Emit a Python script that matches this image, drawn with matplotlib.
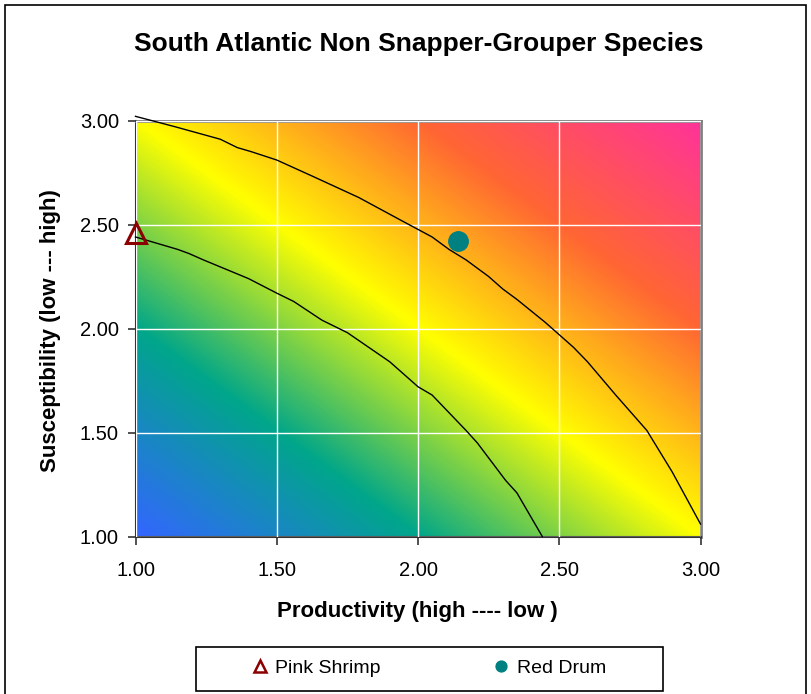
import numpy as np
import matplotlib
matplotlib.use("Agg")
import matplotlib.pyplot as plt
from matplotlib.colors import LinearSegmentedColormap
from matplotlib.lines import Line2D
from matplotlib.patches import Rectangle

plt.rcParams['font.family'] = ['Liberation Sans', 'DejaVu Sans']

# ---- data ----
title = "South Atlantic Non Snapper-Grouper Species"
xlabel = "Productivity (high ---- low )"
ylabel = "Susceptibility (low --- high)"
ticks = [1.0, 1.5, 2.0, 2.5, 3.0]
tick_labels = ["1.00", "1.50", "2.00", "2.50", "3.00"]

species = ["Pink Shrimp", "Red Drum"]
productivity = [1.00, 2.14]
susceptibility = [2.46, 2.42]

lower_x = [1.00, 1.10, 1.15, 1.19, 1.24, 1.40, 1.50, 1.56, 1.66, 1.75, 1.90, 2.00,
           2.05, 2.17, 2.21, 2.31, 2.35, 2.44]
lower_y = [2.44, 2.40, 2.38, 2.36, 2.33, 2.24, 2.17, 2.13, 2.04, 1.98, 1.84, 1.72,
           1.68, 1.51, 1.45, 1.27, 1.21, 1.00]
upper_x = [1.00, 1.14, 1.30, 1.36, 1.41, 1.50, 1.63, 1.71, 1.79, 1.94, 2.05, 2.11,
           2.17, 2.25, 2.30, 2.35, 2.45, 2.55, 2.60, 2.70, 2.81, 2.90, 3.00]
upper_y = [3.02, 2.97, 2.91, 2.87, 2.85, 2.81, 2.73, 2.68, 2.63, 2.52, 2.44, 2.38,
           2.33, 2.25, 2.19, 2.14, 2.03, 1.91, 1.84, 1.68, 1.51, 1.31, 1.06]

# ---- figure ----
W, H = 811, 694
fig = plt.figure(figsize=(W / 100, H / 100), dpi=100)
fig.patch.set_facecolor('white')

L, R, T, B = 135.5, 700.5, 120.5, 536.5
ax = fig.add_axes([L / W, 1 - B / H, (R - L) / W, (B - T) / H])

# background gradient along the diagonal
cmap = LinearSegmentedColormap.from_list(
    "psa", [(0.0, "#3366ff"), (0.25, "#00a68a"), (0.5, "#ffff00"),
            (0.75, "#ff6633"), (1.0, "#ff3399")])
n = 400
gx, gy = np.meshgrid(np.linspace(0, 1, n), np.linspace(0, 1, n))
tt = (gx + gy) / 2
ax.imshow(tt, extent=[1, 3, 1, 3], origin='lower', aspect='auto', cmap=cmap,
          vmin=0, vmax=1, zorder=0, interpolation='bilinear')

ax.set_xlim(1, 3)
ax.set_ylim(1, 3)
ax.set_xticks(ticks)
ax.set_xticklabels(tick_labels)
ax.set_yticks(ticks)
ax.set_yticklabels(tick_labels)
ax.grid(True, color='white', lw=1.0, zorder=1)
ax.set_axisbelow(False)

ax.plot(lower_x, lower_y, color='black', lw=1.0, zorder=3, clip_on=False)
ax.plot(upper_x, upper_y, color='black', lw=1.0, zorder=3, clip_on=False)

ax.plot(productivity[0], susceptibility[0], marker='^', ms=14, mfc='none',
        mec='#8b0000', mew=2.2, ls='none', zorder=5, clip_on=False)
ax.plot(productivity[1], susceptibility[1], marker='o', ms=14, mfc='#008080',
        mec='#008080', ls='none', zorder=5, clip_on=False)

for s in ['left', 'bottom']:
    ax.spines[s].set_color('#333333')
    ax.spines[s].set_linewidth(1.5)
for s in ['top', 'right']:
    ax.spines[s].set_color('#808080')
    ax.spines[s].set_linewidth(2)
ax.tick_params(direction='out', length=6, width=1.2, color='#333333',
               labelsize=14.5)
ax.tick_params(axis='x', pad=12)
ax.tick_params(axis='y', pad=6)

fig.text(419 / W, 1 - 44 / H, title, ha='center', va='center',
         fontsize=19, fontweight='bold')
fig.text(417 / W, 1 - 611 / H, xlabel, ha='center', va='center',
         fontsize=16, fontweight='bold')
fig.text(51 / W, 1 - 331 / H, ylabel, ha='center', va='center',
         fontsize=16, fontweight='bold', rotation=90)

# legend
handles = [Line2D([], [], marker='^', ms=9, mfc='none', mec='#8b0000', mew=1.8, ls='none'),
           Line2D([], [], marker='o', ms=7.8, mfc='#008080', mec='#008080', ls='none')]
fig.legend(handles, species, loc='center left', bbox_to_anchor=(252 / W, 1 - 668 / H),
           ncol=2, frameon=False, fontsize=14, columnspacing=5.8,
           handletextpad=0.4, handlelength=0.8, borderpad=0, borderaxespad=0)
fig.patches.append(Rectangle((196 / W, 1 - 691 / H), (663 - 196) / W, 44 / H,
                             transform=fig.transFigure, fill=False,
                             edgecolor='black', lw=1.2))
# outer chart border
fig.patches.append(Rectangle((5 / W, -0.05), (806 - 5) / W, 1 - 5 / H + 0.05,
                             transform=fig.transFigure, fill=False,
                             edgecolor='black', lw=1.2))

fig.savefig("out.png", dpi=100)
